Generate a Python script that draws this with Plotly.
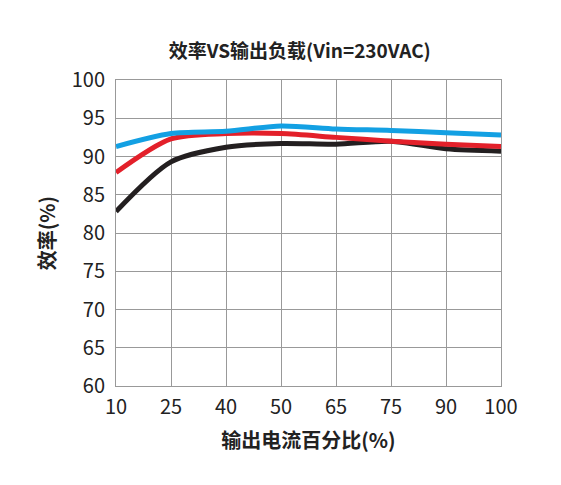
import plotly.graph_objects as go

categories = ["10", "25", "40", "50", "65", "75", "90", "100"]
blue = [91.3, 93.0, 93.3, 94.0, 93.6, 93.4, 93.1, 92.8]
red = [87.9, 92.3, 93.0, 93.0, 92.5, 92.0, 91.6, 91.3]
black = [82.8, 89.3, 91.2, 91.7, 91.6, 92.0, 91.0, 90.7]

idx = list(range(len(categories)))
fig = go.Figure()
for vals, col in [(black, "#231f20"), (red, "#e3202a"), (blue, "#13a0e3")]:
    fig.add_trace(go.Scatter(x=idx, y=vals, mode="lines",
                             line=dict(color=col, width=5, shape="spline", smoothing=0.8),
                             showlegend=False))

font = "Noto Sans CJK SC"
fig.update_layout(
    width=561, height=485, plot_bgcolor="white", paper_bgcolor="white",
    margin=dict(l=108, r=68, t=72, b=107),
    title=dict(text="<b>效率VS输出负载(Vin=230VAC)</b>", x=0.52, y=0.925, xanchor="center",
               font=dict(family=font, size=19, color="#222")),
    font=dict(family=font, size=20, color="#222"),
)
fig.update_xaxes(range=[0, 7], tickvals=idx, ticktext=categories, showgrid=True,
                 gridcolor="#999", gridwidth=1, showline=True, linecolor="#999", mirror=True,
                 zeroline=False, ticks="outside", ticklen=3, tickcolor="rgba(0,0,0,0)",
                 automargin=False,
                 title=dict(text="<b>输出电流百分比(%)</b>", font=dict(size=20), standoff=14))
fig.update_yaxes(range=[60, 100], dtick=5, showgrid=True, gridcolor="#999", gridwidth=1,
                 showline=True, linecolor="#999", mirror=True, zeroline=False,
                 ticks="outside", ticklen=6, tickcolor="rgba(0,0,0,0)", automargin=False,
                 title=dict(text="<b>效率(%)</b>", font=dict(size=20), standoff=10))
fig.write_html("out.html")
